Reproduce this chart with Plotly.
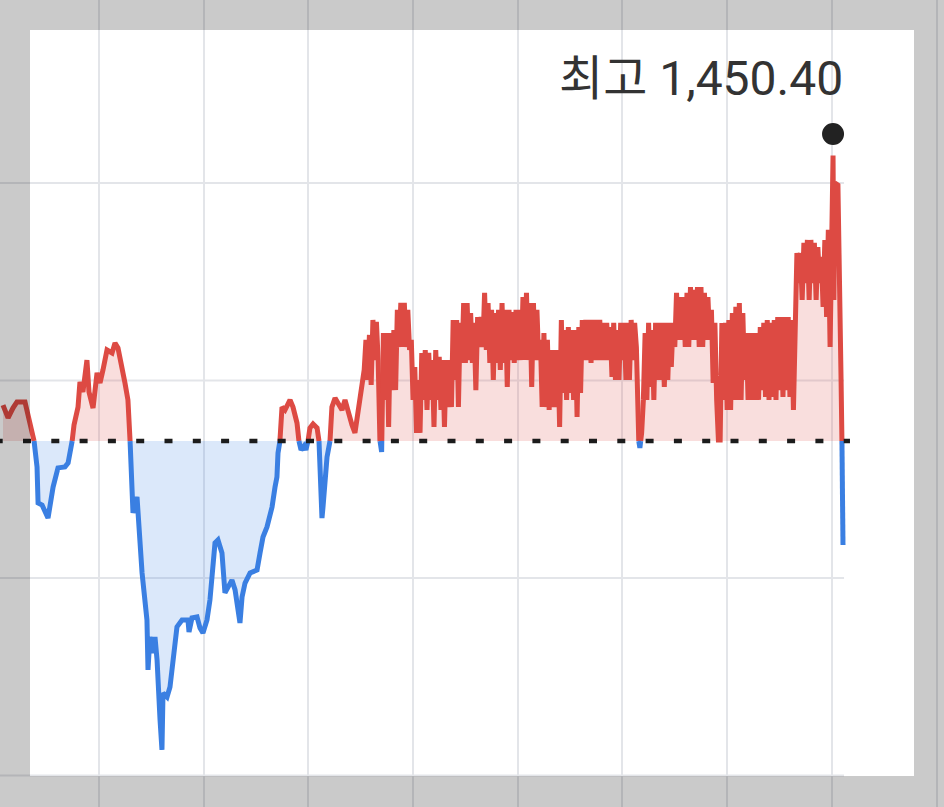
import plotly.graph_objects as go

# ---------------- data ----------------
PREV_CLOSE = 1435.94          # previous close (dotted baseline)
HIGH_LABEL = "최고 1,450.40"   # label of the session high

# --- early session: irregular ticks (minutes from first tick, price)
early_time = [
    0.0, 2.9, 5.7, 8.0, 12.6, 15.5, 17.8, 19.5, 20.1, 22.4, 25.8, 28.7, 31.5, 35.5, 37.3, 39.5,
    40.7, 43.0, 44.1, 45.8, 48.1, 49.3, 51.6, 53.9, 55.6, 57.3, 59.6, 62.5, 64.2, 65.9, 67.1, 69.9,
    71.6, 72.8, 73.9, 74.5, 76.8, 78.5, 79.7, 82.5, 83.1, 84.2, 86.0, 87.1, 88.3, 90.0, 91.1, 91.7,
    94.0, 95.7, 99.7, 102.6, 106.0, 106.6, 108.3, 111.2, 112.9, 114.6, 116.9, 118.6, 121.5, 123.2,
    125.5, 127.2, 128.9, 131.2, 133.0, 134.7, 135.8, 137.0, 138.7, 141.6, 145.6, 147.3, 149.0, 151.3,
    154.2, 155.9, 157.0, 157.6, 158.7, 159.9, 161.6, 164.5, 166.2, 168.5, 169.6, 170.8, 172.5, 173.6,
    174.8, 175.9, 177.7, 180.0, 181.1, 181.7, 182.2, 182.8, 183.4, 184.5, 185.7, 187.4, 188.5, 190.3,
    192.0, 194.3, 196.0, 197.7, 200.0, 201.7, 203.5, 205.2,
]
early_price = [
    1437.76, 1437.11, 1437.61, 1437.92, 1437.92, 1436.65, 1435.94, 1434.63, 1432.80, 1432.70, 1432.04,
    1433.61, 1434.58, 1434.63, 1434.83, 1435.84,
    1436.75, 1437.66, 1438.93, 1438.42, 1440.04, 1438.42, 1437.61, 1439.39, 1438.88, 1439.54, 1440.55,
    1440.40, 1440.90, 1440.65, 1440.20, 1438.88,
    1438.02, 1435.99, 1433.61, 1432.30, 1433.11, 1430.93, 1429.26, 1426.88, 1424.35, 1426.02, 1425.21,
    1426.02, 1424.85, 1421.82, 1420.30, 1423.18,
    1422.98, 1423.49, 1426.53, 1426.88, 1426.88, 1426.27, 1426.98, 1427.03, 1426.47, 1426.22, 1426.88,
    1427.89, 1430.78, 1430.93,
    1430.27, 1428.25, 1428.55, 1428.90, 1428.40, 1427.54, 1426.73, 1428.04, 1428.75, 1429.26, 1429.41,
    1430.27, 1431.08, 1431.59,
    1432.60, 1433.61, 1434.12, 1435.33, 1435.94, 1437.66, 1437.51, 1438.02, 1437.66, 1436.85, 1435.94,
    1435.49, 1435.69, 1435.49,
    1435.94, 1436.60, 1436.80, 1436.60, 1435.94, 1433.97, 1432.30, 1432.04, 1432.60, 1433.97, 1435.13,
    1435.94, 1437.66, 1438.12,
    1437.87, 1437.51, 1438.02, 1437.41, 1436.75, 1436.35, 1437.51, 1438.52,
]

# --- busy session: one tick per minute, from minute 207 to minute 474
DENSE_START, DENSE_END = 207, 474
dense_price = [
    1439.54, 1441.06, 1439.03, 1441.31, 1438.78, 1442.07, 1440.04, 1441.97, 1440.04, 1435.99,  # 207-216
    1435.39, 1441.41, 1438.02, 1441.41, 1436.65, 1441.41, 1438.52, 1441.56, 1438.52, 1442.58,  # 217-226
    1440.70, 1442.93, 1440.70, 1442.93, 1440.70, 1442.58, 1440.55, 1441.06, 1438.02, 1439.69,  # 227-236
    1436.35, 1439.03, 1436.35, 1440.40, 1438.02, 1440.55, 1437.51, 1440.40, 1438.02, 1440.04,  # 237-246
    1436.65, 1440.55, 1438.02, 1440.20, 1437.51, 1440.04, 1436.65, 1440.04, 1437.66, 1440.04,  # 247-256
    1437.66, 1442.07, 1439.03, 1442.07, 1437.66, 1441.92, 1439.89, 1442.93, 1439.89, 1442.93,  # 257-266
    1440.04, 1442.42, 1439.89, 1441.92, 1438.52, 1442.22, 1440.70, 1442.22, 1440.70, 1443.44,  # 267-276
    1440.55, 1442.93, 1439.89, 1442.58, 1439.03, 1442.42, 1439.89, 1442.58, 1439.54, 1442.93,  # 277-286
    1439.89, 1442.58, 1438.68, 1442.58, 1440.04, 1442.47, 1439.89, 1442.58, 1440.04, 1442.58,  # 287-296
    1440.04, 1443.23, 1440.04, 1443.44, 1440.04, 1442.93, 1438.68, 1442.93, 1440.04, 1442.58,  # 297-306
    1440.04, 1441.06, 1437.66, 1441.41, 1437.66, 1441.06, 1437.51, 1440.55, 1437.66, 1440.55,  # 307-316
    1437.66, 1440.55, 1436.65, 1442.07, 1438.37, 1441.56, 1438.02, 1441.71, 1438.37, 1441.56,  # 317-326
    1438.02, 1441.56, 1437.16, 1441.71, 1438.37, 1442.07, 1440.04, 1442.07, 1440.04, 1442.07,  # 327-336
    1439.89, 1442.07, 1440.04, 1442.07, 1440.04, 1442.07, 1440.04, 1441.92, 1440.04, 1441.92,  # 337-346
    1440.04, 1441.71, 1439.18, 1441.92, 1439.03, 1441.56, 1439.03, 1441.92, 1440.04, 1441.92,  # 347-356
    1439.03, 1441.92, 1439.03, 1442.07, 1440.04, 1441.92, 1440.70, 1436.14, 1435.59, 1436.35,  # 357-366
    1438.02, 1441.41, 1438.02, 1441.92, 1438.68, 1441.56, 1438.02, 1441.92, 1439.03, 1441.92,  # 367-376
    1439.03, 1441.92, 1438.68, 1441.92, 1439.03, 1441.92, 1439.69, 1441.92, 1440.70, 1443.44,  # 377-386
    1441.06, 1443.23, 1441.06, 1443.23, 1440.70, 1443.44, 1440.70, 1443.74, 1441.06, 1443.59,  # 387-396
    1441.06, 1443.74, 1440.70, 1443.74, 1440.70, 1443.44, 1441.06, 1443.23, 1441.06, 1442.58,  # 397-406
    1438.88, 1441.92, 1438.02, 1435.99, 1435.99, 1441.92, 1438.02, 1441.92, 1437.51, 1442.07,  # 407-416
    1437.51, 1442.42, 1438.02, 1442.73, 1438.02, 1442.93, 1438.02, 1442.42, 1439.03, 1441.41,  # 417-426
    1438.02, 1441.41, 1438.02, 1441.41, 1438.02, 1441.41, 1438.02, 1441.71, 1438.52, 1441.92,  # 427-436
    1438.17, 1442.07, 1438.02, 1441.92, 1438.17, 1442.07, 1438.02, 1442.22, 1438.52, 1442.22,  # 437-446
    1438.17, 1442.22, 1438.52, 1442.22, 1438.17, 1442.07, 1437.51, 1443.08, 1445.46, 1443.94,  # 447-456
    1445.46, 1443.08, 1445.97, 1443.94, 1446.12, 1443.08, 1446.12, 1443.94, 1445.97, 1443.08,  # 457-466
    1445.76, 1443.94, 1445.26, 1442.73, 1446.12, 1442.22, 1446.63, 1440.70,                    # 467-474
]
dense_time = list(range(DENSE_START, DENSE_END + 1))

# --- closing spike: irregular ticks
tail_time = [475.1, 475.7, 476.2, 476.8, 478.5, 479.1, 480.3, 480.8, 481.1, 481.4]
tail_price = [1448.14, 1450.40, 1443.08, 1449.00, 1448.90, 1443.74, 1439.03, 1435.94, 1433.46, 1430.68]

time_min = early_time + dense_time + tail_time
price = early_price + dense_price + tail_price

HGRID_VALUES = [1449, 1439, 1429, 1419]

# ---------------- styling ----------------
RED = "#dd4a43"
BLUE = "#3a7fe2"
RED_FILL = "rgba(221,74,67,0.18)"
BLUE_FILL = "rgba(58,127,226,0.18)"
GRID = "#e3e5e9"
LINE_W = 5

X_RANGE = [-1.72, 539.29]
Y_RANGE = [1417.41, 1458.27]

# split the series at the baseline so each side gets its own colour
xs, ys = [], []
for i in range(len(time_min)):
    if i > 0 and (price[i - 1] - PREV_CLOSE) * (price[i] - PREV_CLOSE) < 0:
        f = (PREV_CLOSE - price[i - 1]) / (price[i] - price[i - 1])
        xs.append(time_min[i - 1] + f * (time_min[i] - time_min[i - 1]))
        ys.append(PREV_CLOSE)
    xs.append(time_min[i])
    ys.append(price[i])

red_line = [y if y >= PREV_CLOSE else None for y in ys]
blue_line = [y if y <= PREV_CLOSE else None for y in ys]
red_area = [max(y, PREV_CLOSE) for y in ys]
blue_area = [min(y, PREV_CLOSE) for y in ys]
base = [PREV_CLOSE] * len(xs)

fig = go.Figure()
fig.add_trace(go.Scatter(x=xs, y=base, mode="lines", line=dict(width=0), hoverinfo="skip"))
fig.add_trace(go.Scatter(x=xs, y=red_area, mode="lines", line=dict(width=0),
                         fill="tonexty", fillcolor=RED_FILL, hoverinfo="skip"))
fig.add_trace(go.Scatter(x=xs, y=base, mode="lines", line=dict(width=0), hoverinfo="skip"))
fig.add_trace(go.Scatter(x=xs, y=blue_area, mode="lines", line=dict(width=0),
                         fill="tonexty", fillcolor=BLUE_FILL, hoverinfo="skip"))
fig.add_trace(go.Scatter(x=xs, y=red_line, mode="lines", line=dict(color=RED, width=LINE_W),
                         connectgaps=False))
fig.add_trace(go.Scatter(x=xs, y=blue_line, mode="lines", line=dict(color=BLUE, width=LINE_W),
                         connectgaps=False))

# session high
i_max = max(range(len(price)), key=lambda i: price[i])
t_max, v_max = time_min[i_max], price[i_max]

shapes = []
for g in HGRID_VALUES:
    shapes.append(dict(type="line", xref="x", yref="y", x0=X_RANGE[0], x1=482.0, y0=g, y1=g,
                       line=dict(color=GRID, width=2), layer="below"))
# dotted previous-close line
shapes.append(dict(type="line", xref="x", yref="y", x0=-4.76, x1=485.4,
                   y0=PREV_CLOSE, y1=PREV_CLOSE,
                   line=dict(color="#1c1c1c", width=4.5, dash="8px,20.3px"), layer="above"))
# high marker dot
shapes.append(dict(type="circle", xref="x", yref="y", xsizemode="pixel", ysizemode="pixel",
                   xanchor=t_max, yanchor=v_max, x0=-11, x1=11, y0=10.5, y1=32.5,
                   fillcolor="#222222", line=dict(width=0), layer="above"))
# dimmed frame around the card
DIM = "rgba(0,0,0,0.208)"
W, H = 944, 807
def px(xp): return xp / W
def py(yp): return 1 - yp / H
for (x0, y0, x1, y1) in [(0, 0, W, 30), (0, 776, W, H), (0, 30, 30, 776), (914, 30, W, 776)]:
    shapes.append(dict(type="rect", xref="paper", yref="paper",
                       x0=px(x0), x1=px(x1), y0=py(y1), y1=py(y0),
                       fillcolor=DIM, line=dict(width=0), layer="above"))

fig.update_layout(
    width=W, height=H,
    margin=dict(l=0, r=0, t=0, b=0, pad=0),
    paper_bgcolor="white", plot_bgcolor="white",
    showlegend=False, hovermode=False,
    xaxis=dict(range=X_RANGE, showgrid=True, gridcolor=GRID, gridwidth=2,
               tick0=55.02, dtick=60, showticklabels=False, ticks="",
               zeroline=False, showline=False, fixedrange=True),
    yaxis=dict(range=Y_RANGE, showgrid=False, showticklabels=False, ticks="",
               zeroline=False, showline=False, fixedrange=True),
    shapes=shapes,
    annotations=[dict(text=HIGH_LABEL, xref="x", yref="y", x=t_max, y=v_max,
                      xanchor="right", yanchor="middle", xshift=12, yshift=77,
                      showarrow=False,
                      font=dict(family="Roboto, 'Noto Sans CJK KR', sans-serif",
                                size=48, color="#333333"))],
)

fig.write_html("out.html", config={"displayModeBar": False},
               post_script="document.body.style.margin='0';document.body.style.overflow='hidden';")
